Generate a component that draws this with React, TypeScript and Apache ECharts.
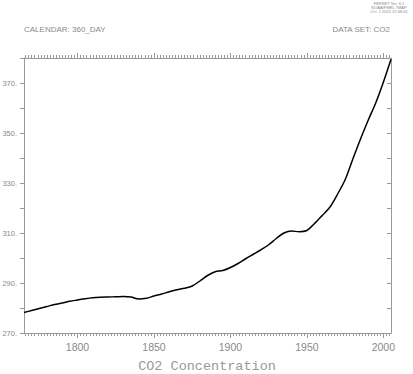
import React, { useEffect, useRef } from "react";
import * as echarts from "echarts";

const years = [
  1765, 1770, 1775, 1780, 1785, 1790, 1795, 1800, 1805, 1810, 1815, 1820, 1825,
  1830, 1835, 1840, 1845, 1850, 1855, 1860, 1865, 1870, 1875, 1880, 1885, 1890,
  1895, 1900, 1905, 1910, 1915, 1920, 1925, 1930, 1935, 1940, 1945, 1950, 1955,
  1960, 1965, 1970, 1975, 1980, 1985, 1990, 1995, 2000, 2005,
];
const co2 = [
  278.2, 279.0, 279.8, 280.6, 281.4, 282.0, 282.7, 283.2, 283.7, 284.1, 284.3,
  284.4, 284.5, 284.6, 284.4, 283.6, 283.9, 284.8, 285.6, 286.5, 287.3, 287.9,
  288.8, 290.8, 293.0, 294.5, 295.0, 296.2, 297.8, 299.7, 301.5, 303.3, 305.3,
  307.8, 310.0, 310.8, 310.5, 311.0, 313.8, 317.0, 320.3, 325.5, 331.3, 339.5,
  347.5, 355.0, 362.0, 370.3, 379.5,
];
const xLabels = [1800, 1850, 1900, 1950, 2000];
const yLabels = [270, 290, 310, 330, 350, 370];
const minorYears: number[] = [];
for (let y = 1766; y <= 2004; y += 2) minorYears.push(y);

const titleText = "CO2 Concentration";
const leftHeader = "CALENDAR: 360_DAY";
const rightHeader = "DATA SET: CO2";
const stamp = ["FERRET Ver. 6.1", "NOAA/PMEL TMAP", "Oct  1 2012 12:48:41"];

const AX = "#9a9a9a";
const TX = "#8a8a8a";

export default function App() {
  const ref = useRef<HTMLDivElement>(null);
  useEffect(() => {
    if (!ref.current) return;
    const chart = echarts.init(ref.current, null, { renderer: "svg" });
    const xBase = {
      type: "value" as const,
      min: 1765,
      max: 2005,
      splitLine: { show: false },
      axisLine: { show: true, onZero: false, lineStyle: { color: AX, width: 1 } },
    };
    chart.setOption({
      animation: false,
      grid: { left: 24, right: 22, top: 58, bottom: 41, outerBoundsMode: "none", containLabel: false },
      xAxis: [
        {
          ...xBase,
          position: "bottom",
          axisTick: { show: true, length: 5, customValues: xLabels, lineStyle: { color: AX } },
          axisLabel: {
            show: true,
            customValues: xLabels,
            formatter: (v: number) => String(v),
            margin: 8,
            color: TX,
            fontSize: 10.5,
            fontFamily: "Liberation Sans",
          },
        },
        {
          ...xBase,
          position: "bottom",
          axisTick: { show: true, length: 3, customValues: minorYears, lineStyle: { color: AX } },
          axisLabel: { show: false },
        },
        {
          ...xBase,
          position: "top",
          axisTick: { show: true, length: 5, customValues: xLabels, lineStyle: { color: AX } },
          axisLabel: { show: false },
        },
        {
          ...xBase,
          position: "top",
          axisTick: { show: true, length: 3, customValues: minorYears, lineStyle: { color: AX } },
          axisLabel: { show: false },
        },
      ],
      yAxis: [
        {
          type: "value",
          min: 270,
          max: 380,
          interval: 10,
          position: "left",
          splitLine: { show: false },
          axisLine: { show: true, lineStyle: { color: AX } },
          axisTick: { show: true, length: 4, lineStyle: { color: AX } },
          axisLabel: {
            customValues: yLabels,
            formatter: (v: number) => `${v}.`,
            margin: 7,
            color: TX,
            fontSize: 7.5,
            fontFamily: "Liberation Sans",
            overflow: "none",
            width: 40,
          },
        },
        {
          type: "value",
          min: 270,
          max: 380,
          interval: 10,
          position: "right",
          splitLine: { show: false },
          axisLine: { show: true, lineStyle: { color: AX } },
          axisTick: { show: true, inside: true, length: 4, lineStyle: { color: AX } },
          axisLabel: { show: false },
        },
      ],
      series: [
        {
          type: "line",
          xAxisIndex: 0,
          yAxisIndex: 0,
          data: years.map((y, i) => [y, co2[i]]),
          showSymbol: false,
          symbol: "none",
          smooth: 0.3,
          lineStyle: { color: "#000", width: 1.5 },
        },
      ],
      graphic: [
        {
          type: "text",
          x: 24,
          y: 29,
          style: {
            text: leftHeader,
            fill: TX,
            font: "8px 'Liberation Sans'",
            textAlign: "left",
            textVerticalAlign: "middle",
          },
        },
        {
          type: "text",
          x: 390,
          y: 29,
          style: {
            text: rightHeader,
            fill: TX,
            font: "8px 'Liberation Sans'",
            textAlign: "right",
            textVerticalAlign: "middle",
          },
        },
        ...stamp.map((s, i) => ({
          type: "text",
          x: 389,
          y: 3.3 + i * 4.2,
          style: {
            text: s,
            fill: "#888",
            font: "4px 'Liberation Sans'",
            textAlign: "center",
            textVerticalAlign: "middle",
          },
        })),
        {
          type: "text",
          x: 207,
          y: 366,
          style: {
            text: titleText,
            fill: "#999",
            font: "13.5px 'Liberation Mono'",
            textAlign: "center",
            textVerticalAlign: "middle",
          },
        },
      ],
    });
    return () => chart.dispose();
  }, []);
  return (
    <div
      ref={ref}
      style={{ position: "absolute", left: 0, top: 0, width: 413, height: 374 }}
    />
  );
}
